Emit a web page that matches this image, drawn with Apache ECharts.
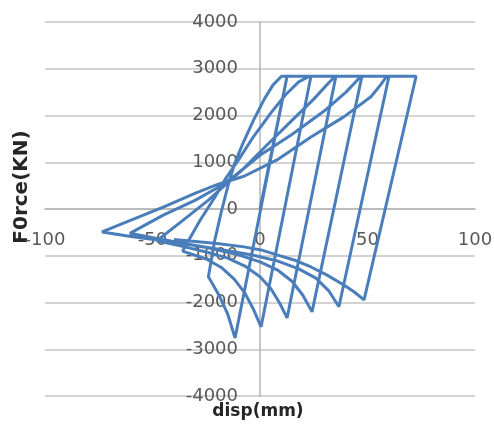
<!DOCTYPE html>
<html>
<head>
<meta charset="utf-8">
<script src="https://cdn.jsdelivr.net/npm/echarts@6/dist/echarts.min.js"></script>
<style>
html,body{margin:0;padding:0;background:#fff;}
#chart{width:494px;height:429px;}
</style>
</head>
<body>
<div id="chart"></div>
<script>
// Tick values
var xTicks = [-100, -50, 0, 50, 100];
var yTicks = [-4000, -3000, -2000, -1000, 0, 1000, 2000, 3000, 4000];

// Hysteresis path, cycle by cycle: displacement (mm) and force (kN)
var cycle1Disp  = [0, 12.6, -11.6, -15, -19, -24];
var cycle1Force = [0, 2840, -2760, -2250, -1850, -1450];

var cycle2Disp  = [-21, -18, -15, -12, -8, -3, 2, 6, 10, 23.7, 0.5, -3, -7, -12, -18, -25, -36];
var cycle2Force = [-660, -60, 480, 950, 1400, 1900, 2350, 2650, 2840, 2840, -2520, -2150, -1800, -1500, -1250, -1070, -900];

var cycle3Disp  = [-28, -21, -16, -10, -3, 5, 12, 18, 23, 35.3, 12.6, 9, 5, 0, -7, -15, -25, -36, -48];
var cycle3Force = [-250, 250, 650, 1050, 1550, 2050, 2450, 2720, 2840, 2840, -2330, -2000, -1700, -1450, -1220, -1050, -920, -800, -680];

var cycle4Disp  = [-36, -24, -16, -8, 5, 15, 25, 32, 35, 47.4, 24.2, 20, 15, 8, 0, -10, -22, -35, -48, -60.5];
var cycle4Force = [-250, 190, 520, 850, 1450, 1900, 2350, 2700, 2840, 2840, -2200, -1850, -1550, -1300, -1130, -980, -850, -740, -630, -520];

var cycle5Disp  = [-45, -30, -20, -12, 0, 15, 30, 40, 47, 60, 36.7, 32, 26, 18, 8, -3, -15, -30, -45, -60, -73.5];
var cycle5Force = [-130, 190, 450, 700, 1150, 1600, 2100, 2500, 2840, 2840, -2090, -1750, -1480, -1280, -1110, -990, -890, -780, -680, -590, -490];

var cycle6Disp  = [-60, -45, -30, -20, -7.4, 7.9, 23.7, 39, 51.6, 56, 59, 72.6, 48.4, 43.7, 39, 31, 23.7, 15.8, 7.9, 0.5, -7.4, -20, -40];
var cycle6Force = [-240, 40, 340, 520, 700, 1050, 1540, 1970, 2400, 2650, 2840, 2840, -1945, -1770, -1625, -1410, -1240, -1090, -980, -875, -810, -740, -650];

var cycles = [
  [cycle1Disp, cycle1Force],
  [cycle2Disp, cycle2Force],
  [cycle3Disp, cycle3Force],
  [cycle4Disp, cycle4Force],
  [cycle5Disp, cycle5Force],
  [cycle6Disp, cycle6Force]
];
var path = [];
cycles.forEach(function (c) {
  for (var i = 0; i < c[0].length; i++) path.push([c[0][i], c[1][i]]);
});

var chart = echarts.init(document.getElementById('chart'), null, {renderer: 'canvas'});
var labelStyle = {color: '#595959', fontSize: 18, fontFamily: 'DejaVu Sans',
  formatter: function (v) { return String(v); }};
chart.setOption({
  animation: false,
  backgroundColor: '#ffffff',
  grid: {left: 45, right: 19, top: 22, bottom: 33, containLabel: false, outerBoundsMode: 'none'},
  xAxis: {
    type: 'value', min: xTicks[0], max: xTicks[xTicks.length - 1], interval: 50,
    position: 'bottom', offset: -187,
    axisLine: {onZero: false, lineStyle: {color: '#b4b4b4', width: 1.5}},
    axisTick: {show: false},
    splitLine: {show: false},
    axisLabel: Object.assign({margin: 22, showMinLabel: true, showMaxLabel: true, hideOverlap: false}, labelStyle)
  },
  yAxis: {
    type: 'value', min: yTicks[0], max: yTicks[yTicks.length - 1], interval: 1000,
    position: 'left', offset: -215,
    axisLine: {show: true, onZero: false, lineStyle: {color: '#b4b4b4', width: 1.5}},
    axisTick: {show: false},
    splitLine: {show: true, lineStyle: {color: '#c4c4c4', width: 1.5}},
    axisLabel: Object.assign({margin: 22, hideOverlap: false}, labelStyle)
  },
  graphic: [
    {type: 'text', x: 22, y: 187, rotation: Math.PI / 2,
     style: {text: 'F0rce(KN)', fill: '#262626', font: 'bold 20px "DejaVu Sans"', textAlign: 'center', textVerticalAlign: 'middle'}},
    {type: 'text', x: 258, y: 412,
     style: {text: 'disp(mm)', fill: '#262626', font: 'bold 17px "DejaVu Sans"', textAlign: 'center', textVerticalAlign: 'middle'}}
  ],
  series: [{
    type: 'line', data: path, showSymbol: false, symbol: 'none',
    lineStyle: {color: '#4a7ebb', width: 3}, smooth: false
  }]
});
</script>
</body>
</html>
